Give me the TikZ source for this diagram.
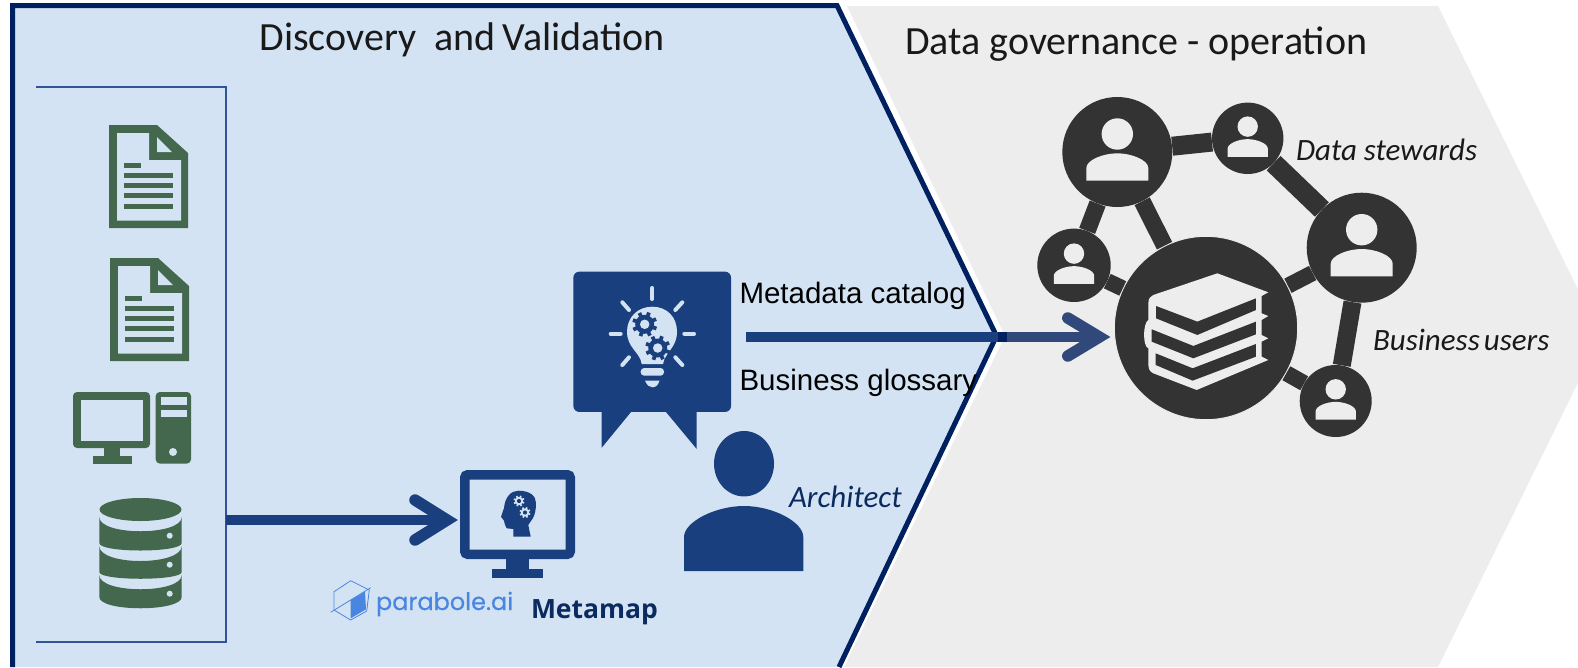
\documentclass[tikz,border=0pt]{standalone}
\usepackage{fontspec}
\usetikzlibrary{calc}
\newfontfamily\calib{Carlito}
\newfontfamily\arialf{Liberation Sans}
\newfontfamily\logof[FakeBold=0.5]{Poppins}
\newfontfamily\opensf{Open Sans}
\definecolor{panelblue}{HTML}{D4E3F3}
\definecolor{panelgrey}{HTML}{EDEDED}
\definecolor{framenavy}{HTML}{002060}
\definecolor{iconblue}{HTML}{1A3F7F}
\definecolor{bracketblue}{HTML}{2F5597}
\definecolor{icongreen}{HTML}{43684E}
\definecolor{netdark}{HTML}{333333}
\definecolor{fadeblue}{HTML}{30497A}
\definecolor{logoblue}{HTML}{4A86E0}
\definecolor{metanavy}{HTML}{0B2A5F}
\tikzset{
  label text/.style={anchor=base west,inner sep=0pt,outer sep=0pt},
  title text/.style={label text,text=black!90,font=\calib\fontsize{40}{42}\selectfont},
  sans text/.style={label text,text=black,font=\arialf\fontsize{29.5}{31}\selectfont},
  role text/.style={label text,text=black!90,font=\calib\itshape\fontsize{31}{33}\selectfont},
  netnode/.style={circle,fill=netdark,inner sep=0pt},
  netlink/.style={netdark,line cap=butt},
  flowline/.style={line width=10.5pt,line cap=butt},
  openhead/.style={line width=11.5pt,line cap=round,line join=miter,miter limit=10},
}
% document icon (drawn at its first position, moved by shift)
\newcommand{\docicon}[2]{%
  \begin{scope}[shift={(#1,#2)}]
    \fill[icongreen] (109,125)--(157,125)--(188,153)--(188,228)--(109,228)--cycle;
    \fill[panelblue] (117,133)--(149,133)--(149,160)--(181,160)--(181,220.5)--(117,220.5)--cycle;
    \fill[panelblue] (157,137)--(172,152)--(157,152)--cycle;
    \fill[icongreen] (124,163) rectangle (141,168);
    \foreach \yy in {173.2,183.2,193.4,203.6}{\fill[icongreen] (124,\yy) rectangle (173,\yy+5);}
  \end{scope}}
\newcommand{\dbseg}[4]{% top side, top bulge, bottom side, bottom bulge
  \fill[icongreen] (99.3,#1) .. controls (99.3,#2) and (181.7,#2) .. (181.7,#1)
    -- (181.7,#3) .. controls (181.7,#4) and (99.3,#4) .. (99.3,#3) -- cycle;}
\newcommand{\gearicon}[5]{%
  \fill[#4] (#1,#2) circle ({.76*#3});
  \foreach \a in {0,45,...,315}{
    \draw[#4,line width={.3*#3 pt}] ([shift={(\a+20:{.6*#3})}]#1,#2) -- ([shift={(\a+20:{#3})}]#1,#2);}
  \fill[#5] (#1,#2) circle ({.38*#3});}
\newcommand{\netperson}[3]{%
  \begin{scope}[shift={(#1,#2)},scale=#3]
    \fill[panelgrey] (0,-18) circle (15.7);
    \fill[panelgrey] (-31,28.7)--(-31,16) .. controls (-31,8) and (-14,1.3) .. (0,1.3)
       .. controls (14,1.3) and (31,8) .. (31,16) -- (31,28.7) -- cycle;
  \end{scope}}
\begin{document}
\begin{tikzpicture}[x=1pt,y=-1pt]
\useasboundingbox (0,0) rectangle (1578,667);
% panels
\fill[panelgrey] (847,6)--(1438,6)--(1601,336)--(1438,667)--(844,667)--(1005,336)--cycle;
\fill[panelblue] (12.5,5.5)--(837,5.5)--(996.5,336)--(839,667)--(12.5,667)--cycle;
\draw[framenavy,line width=5pt,line join=miter] (12.5,667)--(12.5,5.5)--(837,5.5)--(996.5,336)--(839,667);
% bracket
\draw[bracketblue,line width=1.5pt] (36,87)--(226,87)--(226,642)--(36,642);
% titles
\node[title text] (titleleft) at (259.5,50) {Discovery\ \ and\kern-2pt\ Validation};
\node[title text] (titleright) at (905,54) {Data governance - operation};
% source icons
\docicon{0}{0}
\docicon{1}{133}
% computer
\fill[icongreen,rounded corners=4pt] (73,392) rectangle (150,448);
\fill[panelblue] (81,399.5) rectangle (143,440.5);
\fill[icongreen] (104,447) rectangle (119.5,457);
\fill[icongreen] (92.5,456) rectangle (131.5,463.5);
\fill[icongreen,rounded corners=4pt] (155.7,392) rectangle (191,463.5);
\fill[panelblue] (160.5,397) rectangle (186.5,404.5);
\fill[panelblue] (160.5,410) rectangle (186.5,417);
\fill[panelblue] (173,452) circle (4);
% database
\fill[icongreen] (140.5,509.5) ellipse (41 and 11.5);
\dbseg{517}{536}{543}{553}
\dbseg{546}{566}{572}{581}
\dbseg{575}{594}{597}{612}
\fill[panelblue] (169.7,535.7) circle (3);
\fill[panelblue] (169.7,564.7) circle (3);
\fill[panelblue] (169.7,593.7) circle (3);
% metamap monitor
\node[draw=iconblue,line width=9.5pt,rounded corners=3pt,inner sep=0pt,minimum width=105.5pt,minimum height=79.5pt] (monitor) at (517.5,514.5) {};
\fill[iconblue] (506,558) rectangle (529,570);
\fill[iconblue] (492,569) rectangle (543,578);
\fill[iconblue] (513.3,536.7)--(513.3,529)--(506.7,528.3) .. controls (505,526) and (504.5,523) .. (504,520.7)
  -- (501,516.7) -- (504,508) .. controls (505,497) and (511,490.7) .. (518.3,490.7)
  .. controls (530,490.7) and (536,496) .. (536,503) .. controls (536,510) and (535,514) .. (533,518)
  -- (528.3,525) -- (530.7,536.7) -- cycle;
\gearicon{519}{501}{5.5}{panelblue}{iconblue}
\gearicon{525}{512.5}{5.5}{panelblue}{iconblue}
% arrow into monitor
\coordinate (sourcesout) at (226,520);
\draw[iconblue,flowline,shorten >=14pt] (sourcesout) -- (monitor.west |- sourcesout);
\draw[iconblue,openhead] ($(monitor.west |- sourcesout)+(-45,-20)$) -- ($(monitor.west |- sourcesout)+(-13,0)$) -- ($(monitor.west |- sourcesout)+(-45,20)$);
% logo
\draw[logoblue,line width=.8pt] (350.7,580.7)--(369.3,590)--(366.7,611)--(350.7,620)--(334,610)--(334,591.7)--cycle;
\draw[logoblue,line width=.8pt] (330.7,612.3)--(370.7,587.7);
\fill[logoblue] (350.7,600)--(365,591.7)--(366,609.3)--(350.7,618.3)--cycle;
\node[label text,text=logoblue,font=\logof\fontsize{24}{26}\selectfont] (logo) at (376,610) {parabole.ai};
\node[label text,text=metanavy,font=\opensf\bfseries\fontsize{26.5}{28}\selectfont] (metamap) at (531,618) {Metamap};
% speech bubble
\node[fill=iconblue,rounded corners=6pt,inner sep=0pt,minimum width=157.7pt,minimum height=140.3pt] (bubble) at (652.2,341.8) {};
\fill[iconblue] (601.7,410)--(601.7,447.7)--(631,412)--(631,410)--cycle;
\fill[iconblue] (666,410)--(666,412)--(696.7,449)--(696.7,410)--cycle;
% bulb
\fill[panelblue] (641.7,364) .. controls (640,352) and (627,348) .. (627,331.7)
  .. controls (627,317) and (638,306.7) .. (652.3,306.7)
  .. controls (667,306.7) and (677,317) .. (677,331.7)
  .. controls (677,348) and (665,352) .. (663,364) -- cycle;
\fill[panelblue,rounded corners=3.5pt] (640.7,368) rectangle (664,375.7);
\fill[panelblue] (645,380.7) .. controls (647,385) and (649,387.3) .. (652.3,387.3) .. controls (656,387.3) and (658,385) .. (659.5,380.7) -- cycle;
\foreach \xa/\ya/\xb/\yb in {652.3/288/652.3/299,622.3/302.3/629/310,682.3/302.3/675.3/310,610.7/333.7/620.7/333.7,684.3/333.7/694/333.7,622.3/365/629/357.3,682.3/365/675.3/357.3}
  {\draw[panelblue,line width=4pt,line cap=round] (\xa,\ya)--(\xb,\yb);}
\gearicon{644.7}{324.3}{12.5}{iconblue}{panelblue}
\gearicon{657.7}{348}{12.5}{iconblue}{panelblue}
% architect
\fill[iconblue] (744,463.7) ellipse (30 and 32.7);
\fill[iconblue] (684,571)--(684,537) .. controls (684,522) and (715,506) .. (744,506)
  .. controls (773,506) and (803.3,522) .. (803.3,537) -- (803.3,571) -- cycle;
\node[label text,text=metanavy,font=\calib\itshape\fontsize{31}{33}\selectfont] (architect) at (789,507) {Architect};
% catalog texts
\node[sans text] (catalog) at (739.5,303) {Metadata catalog};
\node[sans text] (glossary) at (739.5,390) {Business glossary};
% network nodes
\node[netnode,minimum size=110pt] (nettl) at (1117.3,152) {};
\node[netnode,minimum size=71.4pt] (nettop) at (1247.7,138.3) {};
\node[netnode,minimum size=110pt] (netright) at (1361.7,247.7) {};
\node[netnode,minimum size=73.4pt] (netleft) at (1074,265.3) {};
\node[netnode,minimum size=72pt] (netbottom) at (1335.7,401) {};
\node[netnode,draw=panelgrey,line width=1pt,minimum size=183.4pt] (hub) at (1206,328) {};
% network links
\draw[netlink,line width=19pt] (nettl)--(nettop);
\draw[netlink,line width=20pt] (nettop)--(netright);
\draw[netlink,line width=17pt] (nettl)--(netleft);
\draw[netlink,line width=17pt] (nettl)--(hub);
\draw[netlink,line width=16pt] (netleft)--(hub);
\draw[netlink,line width=16pt] (netright)--(hub);
\draw[netlink,line width=18pt] (netright)--(netbottom);
\draw[netlink,line width=16pt] (netbottom)--(hub);
\netperson{1117.3}{152}{1}
\netperson{1247.7}{138.3}{.65}
\netperson{1361.7}{247.7}{1}
\netperson{1074}{265.3}{.65}
\netperson{1335.7}{401}{.65}
% books
\begin{scope}[shift={(1020,90)},x=.3333pt,y=-.3333pt]
  \fill[panelgrey] (592,550)--(745,607)--(725,618)--(725,670)--(745,678)--(725,690)--(725,735)--(745,745)--(725,755)--(725,800)--(745,810)--(530,900)--(400,850)
     .. controls (388,845) and (385,835) .. (385,820) -- (385,775)
     .. controls (368,770) and (368,700) .. (385,690) -- (385,640)
     .. controls (385,625) and (392,618) .. (400,615) -- cycle;
  \fill[netdark] (408,648)--(532,695)--(708,625)--(708,660)--(532,735)--(408,685)--cycle;
  \fill[netdark] (395,718)--(520,768)--(708,695)--(708,733)--(520,805)--(395,755)--cycle;
  \fill[netdark] (407,790)--(518,835)--(708,762)--(708,800)--(518,872)--(407,825)--cycle;
\end{scope}
\node[role text] (stewards) at (1296,160) {Data stewards};
\node[role text] (users) at (1373,350) {Business\kern-3pt\ users};
% arrow catalog -> hub
\coordinate (catalogout) at (746,337);
\coordinate (apexin) at (998,337);
\coordinate (apexout) at (1007,337);
\coordinate (hubin) at (hub.west |- catalogout);
\draw[fadeblue,flowline,shorten >=15pt] (apexout) -- (hubin);
\draw[fadeblue,openhead] ($(hubin)+(-46,-19)$) -- ($(hubin)+(-14.5,0)$) -- ($(hubin)+(-46,19)$);
\draw[iconblue,flowline] (catalogout) -- (apexin);
\draw[framenavy,flowline] (apexin) -- (apexout);
\end{tikzpicture}
\end{document}
